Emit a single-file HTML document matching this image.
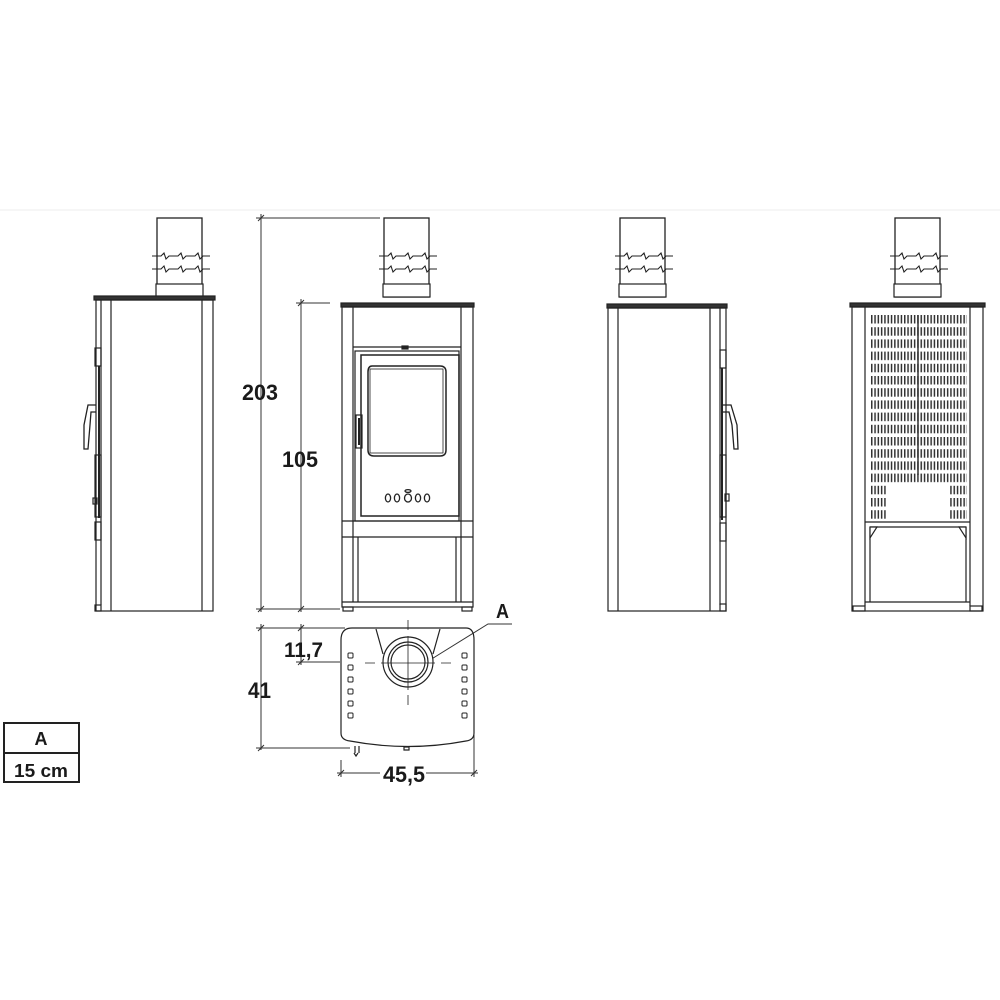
<!DOCTYPE html>
<html><head><meta charset="utf-8"><style>
html,body{margin:0;padding:0;background:#fff}
svg{display:block}
text{font-family:"Liberation Sans",sans-serif;font-weight:bold;fill:#1a1a1a}
</style></head><body>
<svg width="1000" height="1000" viewBox="0 0 1000 1000" xmlns="http://www.w3.org/2000/svg">
<defs>
<pattern id="sl" x="871" y="315" width="3.3" height="12.2" patternUnits="userSpaceOnUse">
<rect x="0" y="0" width="1.5" height="8.5" fill="#333"/>
</pattern>
<g id="pipe">
<rect x="0" y="0" width="45" height="79" fill="none" stroke="#222" stroke-width="1.3"/>
<path d="M-5,38 l9,0 l3,-3 l2,6 l3,-3 l9,0 l3,-3 l2,6 l3,-3 l9,0 l3,-3 l2,6 l3,-3 l7,0" fill="none" stroke="#222" stroke-width="1.1"/>
<path d="M-5,51 l9,0 l3,-3 l2,6 l3,-3 l9,0 l3,-3 l2,6 l3,-3 l9,0 l3,-3 l2,6 l3,-3 l7,0" fill="none" stroke="#222" stroke-width="1.1"/>
<rect x="-1" y="66" width="47" height="13" fill="#fff" stroke="#222" stroke-width="1.2"/>
</g>
</defs>
<rect width="1000" height="1000" fill="#fff"/>
<line x1="0" y1="210" x2="1000" y2="210" stroke="#eee" stroke-width="1"/>
<g fill="none" stroke="#222" stroke-width="1.2">

<use href="#pipe" x="157" y="218"/>
<rect x="94" y="296" width="121" height="4" fill="#333"/>
<rect x="96" y="300" width="117" height="311"/>
<line x1="111" y1="300" x2="111" y2="611"/>
<line x1="202" y1="300" x2="202" y2="611"/>
<line x1="101" y1="300" x2="101" y2="605"/>
<rect x="95" y="348" width="6" height="18"/>
<line x1="99" y1="366" x2="99" y2="518" stroke-width="2"/>
<rect x="95" y="455" width="6" height="62"/>
<rect x="93" y="498" width="4" height="6"/>
<rect x="95" y="522" width="6" height="18"/>
<path d="M96,405 L88,405 L84,425 L84,449 L88,449 L90,425 L91,412 L96,412" stroke-width="1.3"/>
<rect x="95" y="605" width="6" height="6"/>

<use href="#pipe" x="384" y="218"/>
<rect x="341" y="303" width="133" height="4" fill="#333"/>
<rect x="342" y="307" width="131" height="300"/>
<line x1="353" y1="307" x2="353" y2="602"/>
<line x1="461" y1="307" x2="461" y2="602"/>
<line x1="353" y1="347" x2="461" y2="347"/>
<rect x="355" y="351" width="104" height="170"/>
<rect x="361" y="355" width="98" height="161" stroke-width="1.5"/>
<path d="M372,366 L440,366 Q446,366 446,372 L446,450 Q446,456 440,456 L374,456 Q368,456 368,450 L368,372 Q368,366 372,366Z" stroke-width="1.5"/>
<rect x="370" y="369" width="73" height="84" stroke-width="0.8"/>
<rect x="402" y="346" width="6" height="3" fill="#222"/>
<rect x="356" y="415" width="6" height="33" stroke-width="1.2"/>
<line x1="359" y1="418" x2="359" y2="445" stroke-width="2"/>
<g stroke-width="1.3">
<ellipse cx="388" cy="498" rx="2.6" ry="4"/>
<ellipse cx="397" cy="498" rx="2.6" ry="4"/>
<ellipse cx="408" cy="498" rx="3.5" ry="4"/>
<ellipse cx="408" cy="491" rx="3" ry="1.4"/>
<ellipse cx="418" cy="498" rx="2.6" ry="4"/>
<ellipse cx="427" cy="498" rx="2.6" ry="4"/>
</g>
<line x1="342" y1="521" x2="473" y2="521"/>
<line x1="342" y1="537" x2="473" y2="537"/>
<line x1="358" y1="537" x2="358" y2="602"/>
<line x1="456" y1="537" x2="456" y2="602"/>
<line x1="342" y1="602" x2="473" y2="602"/>
<rect x="343" y="607" width="10" height="4"/>
<rect x="462" y="607" width="10" height="4"/>

<use href="#pipe" x="620" y="218"/>
<rect x="607" y="304" width="120" height="4" fill="#333"/>
<rect x="608" y="308" width="118" height="303"/>
<line x1="618" y1="308" x2="618" y2="611"/>
<line x1="710" y1="308" x2="710" y2="611"/>
<line x1="720" y1="308" x2="720" y2="605"/>
<rect x="720" y="350" width="6" height="18"/>
<line x1="722" y1="368" x2="722" y2="520" stroke-width="2"/>
<rect x="720" y="455" width="6" height="62"/>
<rect x="725" y="494" width="4" height="7"/>
<rect x="720" y="523" width="6" height="18"/>
<path d="M722,405 L731,405 L737,425 L738,449 L734,449 L732,425 L729,412 L722,412" stroke-width="1.3"/>
<rect x="720" y="604" width="6" height="7"/>

<use href="#pipe" x="895" y="218"/>
<rect x="850" y="303" width="135" height="4" fill="#333"/>
<rect x="852" y="307" width="131" height="304"/>
<line x1="865" y1="307" x2="865" y2="606"/>
<line x1="970" y1="307" x2="970" y2="606"/>
<line x1="865" y1="522" x2="970" y2="522"/>
<line x1="870" y1="527" x2="966" y2="527"/>
<line x1="870" y1="527" x2="870" y2="602"/>
<line x1="966" y1="527" x2="966" y2="602"/>
<path d="M870,527 L877,527 L870,538Z M966,527 L959,527 L966,538Z" fill="#fff"/>
<line x1="865" y1="602" x2="970" y2="602"/>
<rect x="853" y="606" width="12" height="5"/>
<rect x="970" y="606" width="12" height="5"/>
</g>
<rect x="870" y="315" width="97" height="170" fill="url(#sl)"/>
<rect x="870" y="485" width="16" height="36" fill="url(#sl)"/>
<rect x="950" y="485" width="17" height="36" fill="url(#sl)"/>
<line x1="918" y1="315" x2="918" y2="475" stroke="#333" stroke-width="1.5"/>

<g fill="none" stroke="#333" stroke-width="1">
<line x1="256" y1="218" x2="380" y2="218"/>
<line x1="261" y1="214" x2="261" y2="612"/>
<line x1="256" y1="609" x2="340" y2="609"/>
<line x1="296" y1="303" x2="330" y2="303"/>
<line x1="301" y1="299" x2="301" y2="612"/>
<path d="M258,221 l6,-6 M258,612 l6,-6 M298,306 l6,-6 M298,612 l6,-6"/>
<line x1="256" y1="628" x2="345" y2="628"/>
<line x1="261" y1="624" x2="261" y2="750"/>
<line x1="256" y1="748" x2="350" y2="748"/>
<line x1="301" y1="624" x2="301" y2="665"/>
<line x1="296" y1="662" x2="340" y2="662"/>
<line x1="341" y1="760" x2="341" y2="777"/>
<line x1="474" y1="735" x2="474" y2="777"/>
<line x1="337" y1="773" x2="380" y2="773"/>
<line x1="426" y1="773" x2="478" y2="773"/>
<path d="M258,631 l6,-6 M258,751 l6,-6 M298,631 l6,-6 M298,665 l6,-6 M338,776 l6,-6 M471,776 l6,-6"/>
<path d="M430,660 L488,624 L512,624"/>
</g>

<g fill="none" stroke="#222" stroke-width="1.2">
<path d="M352,628 L466,628 Q474,628 474,640 L474,733 Q474,740 466,741 Q408,752 350,741 Q341,740 341,733 L341,640 Q341,628 352,628Z"/>
<path d="M376,629 L383,654 M440,629 L433,654"/>
<circle cx="408" cy="662" r="25" fill="#fff"/>
<circle cx="408" cy="662" r="20"/>
<circle cx="408" cy="662" r="17"/>
<path d="M365,663 h10 M381,663 h54 M441,663 h10 M408,620 v10 M408,636 v54 M408,695 v10" stroke-width="0.8"/>
<g stroke-width="1">
<rect x="348" y="653" width="5" height="5" rx="1"/><rect x="348" y="665" width="5" height="5" rx="1"/><rect x="348" y="677" width="5" height="5" rx="1"/><rect x="348" y="689" width="5" height="5" rx="1"/><rect x="348" y="701" width="5" height="5" rx="1"/><rect x="348" y="713" width="5" height="5" rx="1"/>
<rect x="462" y="653" width="5" height="5" rx="1"/><rect x="462" y="665" width="5" height="5" rx="1"/><rect x="462" y="677" width="5" height="5" rx="1"/><rect x="462" y="689" width="5" height="5" rx="1"/><rect x="462" y="701" width="5" height="5" rx="1"/><rect x="462" y="713" width="5" height="5" rx="1"/>
</g>
<path d="M355,746 v7 M359,746 v7 M354,753 l2,3 l2,-3 M404,747 h5 v3 h-5z"/>
</g>

<text x="242" y="400" font-size="22" textLength="36" lengthAdjust="spacingAndGlyphs">203</text>
<text x="282" y="467" font-size="22" textLength="36" lengthAdjust="spacingAndGlyphs">105</text>
<text x="496" y="618" font-size="20" textLength="13" lengthAdjust="spacingAndGlyphs">A</text>
<text x="284" y="657" font-size="21" textLength="39" lengthAdjust="spacingAndGlyphs">11,7</text>
<text x="248" y="698" font-size="22" textLength="23" lengthAdjust="spacingAndGlyphs">41</text>
<text x="383" y="782" font-size="22" textLength="42" lengthAdjust="spacingAndGlyphs">45,5</text>

<rect x="4" y="723" width="75" height="59" fill="none" stroke="#222" stroke-width="2"/>
<line x1="4" y1="753" x2="79" y2="753" stroke="#222" stroke-width="2"/>
<text x="41" y="745" font-size="18" text-anchor="middle">A</text>
<text x="14" y="777" font-size="18" textLength="54" lengthAdjust="spacingAndGlyphs">15 cm</text>
</svg>
</body></html>
